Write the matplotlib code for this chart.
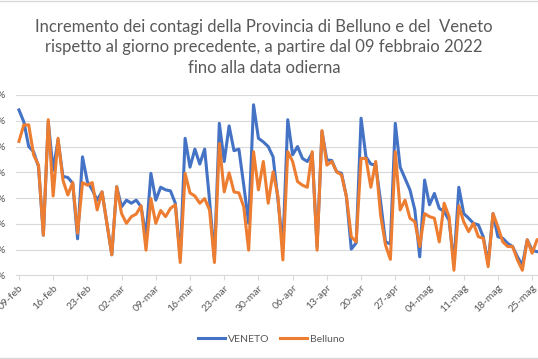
import matplotlib
matplotlib.use("Agg")
import matplotlib.pyplot as plt
import numpy as np

# incremento giornaliero (%) a partire dal 09-feb-2022
veneto = [32.1, 29.8, 25.0, 24.0, 21.1, 7.8, 29.8, 20.4, 26.3, 19.2,
          19.0, 17.9, 7.1, 23.0, 18.2, 16.6, 14.6, 16.2, 10.1, 4.0,
          17.2, 13.3, 14.6, 14.0, 14.6, 13.3, 7.5, 19.8, 14.6, 17.1,
          16.6, 16.4, 14.0, 3.3, 26.6, 21.0, 24.5, 21.6, 24.5, 14.6,
          3.3, 29.5, 22.1, 29.0, 24.2, 24.5, 17.5, 10.1, 33.1, 26.6,
          25.9, 25.0, 23.0, 14.6, 5.6, 30.2, 23.4, 25.0, 22.7, 22.1,
          23.7, 5.6, 27.9, 22.4, 22.3, 20.1, 19.8, 15.3, 5.1, 6.3,
          30.5, 23.0, 21.6, 21.4, 14.3, 6.5, 6.1, 29.5, 21.0, 18.8,
          16.6, 12.7, 3.6, 18.5, 13.7, 15.9, 13.0, 12.4, 10.7, 2.3,
          17.1, 12.0, 11.1, 10.1, 9.8, 7.5, 2.3, 12.0, 7.5, 7.2,
          6.2, 5.6, 3.6, 2.0, 6.9, 4.9, 4.6, 4.6]
belluno = [26.0, 29.2, 29.2, 23.4, 21.4, 7.8, 30.2, 15.4, 26.6, 18.5,
           15.6, 18.0, 8.2, 18.0, 17.5, 18.0, 12.7, 16.2, 10.1, 4.0,
           17.2, 12.0, 10.1, 11.4, 11.9, 13.5, 4.9, 14.9, 10.1, 12.6,
           11.4, 13.0, 13.7, 2.5, 19.8, 16.0, 15.4, 14.0, 14.9, 12.7,
           2.5, 25.6, 16.2, 19.9, 16.2, 16.0, 13.3, 4.9, 24.0, 16.6,
           22.1, 14.0, 20.1, 15.3, 3.0, 24.0, 22.1, 18.2, 17.5, 17.1,
           24.0, 4.9, 28.1, 21.4, 22.1, 20.1, 19.5, 15.3, 7.5, 6.5,
           22.7, 22.7, 17.1, 22.1, 11.7, 5.9, 3.1, 24.0, 12.7, 14.6,
           11.1, 10.4, 5.6, 12.0, 11.4, 11.1, 6.5, 14.0, 11.4, 1.0,
           13.5, 10.4, 8.5, 10.1, 7.5, 7.2, 1.7, 12.0, 9.4, 6.5,
           5.6, 5.6, 3.0, 1.0, 6.9, 4.3, 6.9, 7.2]
tick_labels = ["09-feb", "16-feb", "23-feb", "02-mar", "09-mar", "16-mar",
               "23-mar", "30-mar", "06-apr", "13-apr", "20-apr", "27-apr",
               "04-mag", "11-mag", "18-mag", "25-mag"]
y_ticks = [0, 5, 10, 15, 20, 25, 30, 35]

grey = "#595959"
plt.rcParams["font.family"] = ["Lato", "DejaVu Sans"]

fig = plt.figure(figsize=(5.38, 3.59), dpi=100)
ax = fig.add_axes([16 / 538, 83.6 / 359, 522 / 538, 180.4 / 359])

days = np.arange(len(veneto))
ax.plot(days, veneto, color="#4472C4", lw=2.2, label="VENETO", solid_joinstyle="round")
ax.plot(days, belluno, color="#ED7D31", lw=2.2, label="Belluno", solid_joinstyle="round")

ax.set_xlim(-0.6, 106.2)
ax.set_ylim(0, 35)
ax.set_yticks(y_ticks)
ax.set_yticklabels([str(v) + "%" for v in y_ticks])
ax.set_xticks(np.arange(len(tick_labels)) * 7)
ax.set_xticklabels(tick_labels, rotation=45, ha="right", rotation_mode="anchor")

ax.grid(axis="y", color="#d9d9d9", lw=0.8)
ax.set_axisbelow(True)
for s in ["top", "right", "left"]:
    ax.spines[s].set_visible(False)
ax.spines["bottom"].set_color("#d9d9d9")
ax.tick_params(axis="y", length=0, pad=7.5, labelsize=7.5, labelcolor=grey)
ax.tick_params(axis="x", length=3.5, color="#d9d9d9", pad=2, labelsize=7.5, labelcolor=grey)

fig.text(0.491, 0.948, "Incremento dei contagi della Provincia di Belluno e del  Veneto\n"
         "rispetto al giorno precedente, a partire dal 09 febbraio 2022\n"
         "fino alla data odierna", ha="center", va="top", fontsize=12,
         color=grey, linespacing=1.35)

fig.legend(loc="center", bbox_to_anchor=(271 / 538, 20 / 359), ncol=2, frameon=False,
           fontsize=7.5, labelcolor=grey, handlelength=2.6, handletextpad=0.3,
           columnspacing=1.0)

fig.add_artist(plt.Rectangle((-0.01, 0.004), 1.02, 0.992, transform=fig.transFigure,
                             fill=False, edgecolor="#d9d9d9", lw=1))

fig.savefig("out.png", dpi=100)
